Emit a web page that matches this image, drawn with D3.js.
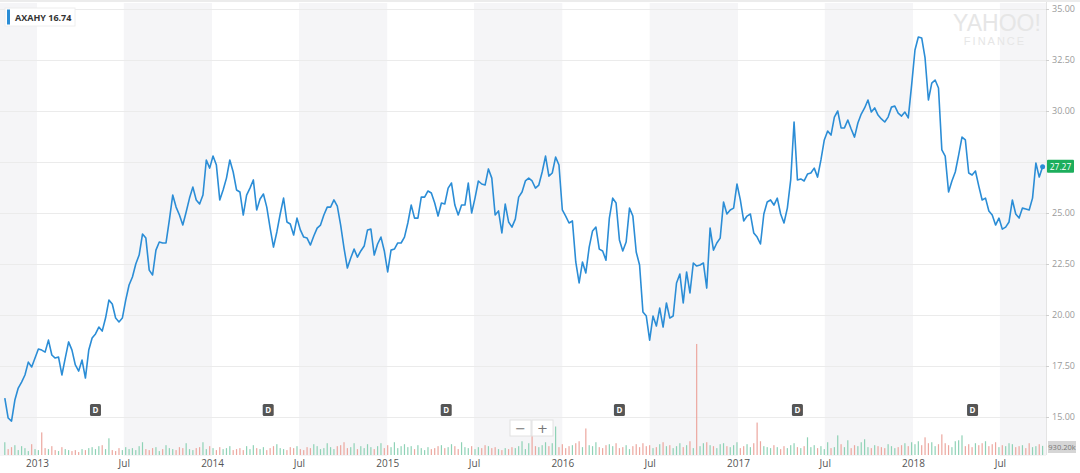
<!DOCTYPE html>
<html><head><meta charset="utf-8">
<script src="https://cdn.jsdelivr.net/npm/d3@7"></script>
<style>body{margin:0;background:#fff;overflow:hidden} svg{display:block}</style>
</head><body><svg id="c" width="1080" height="473"></svg>
<script>
const symbol = "AXAHY";
const legendValue = "16.74";
const firstWeek = "2012-10-26";
const closes = [
15.93,14.95,14.80,15.83,16.42,16.71,17.06,17.69,17.45,17.89,
18.33,18.28,18.18,18.77,18.04,17.89,17.94,17.06,17.89,18.68,
18.28,17.55,17.25,17.79,16.91,18.28,18.87,19.07,19.41,19.21,
19.85,20.73,20.54,19.85,19.66,19.85,20.73,21.47,21.86,22.50,
22.94,23.97,23.77,22.20,21.96,23.18,23.58,23.53,23.53,24.66,
25.88,25.29,24.90,24.41,25.05,25.73,26.27,25.64,25.44,25.88,
27.60,27.20,27.79,27.35,25.64,26.13,26.71,27.60,27.01,26.13,
26.03,24.90,25.88,26.22,26.62,25.15,25.69,25.93,25.29,24.26,
23.33,24.07,24.95,25.73,24.56,24.46,23.92,24.75,24.17,23.82,
23.77,23.43,23.87,24.26,24.41,24.90,25.29,25.29,25.64,25.34,
24.41,23.28,22.30,22.79,23.23,22.84,23.14,23.38,24.17,24.21,
22.94,23.48,23.82,23.14,22.11,23.18,23.23,23.53,23.53,23.82,
24.51,25.39,24.75,24.75,25.78,25.78,26.08,25.98,25.49,24.85,
25.49,25.44,26.22,26.47,25.39,24.90,25.39,25.39,26.47,25.00,
25.73,26.57,26.42,26.37,27.16,26.71,24.90,25.10,24.02,25.44,
24.56,24.31,24.70,25.78,26.03,26.57,26.71,26.57,26.22,26.37,
27.01,27.79,26.81,26.96,27.74,27.35,25.15,24.85,24.51,24.61,
22.60,21.57,22.60,22.06,23.33,24.12,24.31,23.23,23.14,22.69,
24.75,25.73,25.49,23.68,23.14,23.58,25.24,24.85,23.09,22.45,
20.15,19.95,18.77,19.95,19.46,20.34,19.41,20.59,19.85,19.95,
21.57,22.01,20.59,22.11,21.08,22.55,22.40,22.45,22.55,21.32,
24.26,23.18,23.53,23.77,25.54,24.95,25.15,25.24,26.42,25.64,
24.61,24.85,24.95,24.02,23.82,23.48,24.95,25.54,25.64,25.39,
25.73,24.95,24.51,25.24,26.62,29.46,26.62,26.67,26.57,26.91,
26.96,27.20,26.76,27.60,28.58,29.02,28.82,29.70,30.00,29.17,
29.17,29.56,29.12,28.72,29.41,29.85,30.15,30.54,29.95,30.15,
29.80,29.61,29.46,29.70,30.19,30.24,29.90,29.75,29.95,29.66,
31.27,32.99,33.63,33.58,32.60,30.54,31.37,31.52,31.13,28.09,
27.79,26.03,26.57,27.01,27.84,28.72,28.58,26.96,26.86,27.06,
26.32,25.64,25.73,25.10,24.90,24.41,24.75,24.21,24.31,24.56,
25.64,24.95,24.75,25.24,25.20,25.15,25.73,27.45,26.76,27.27
];
const volumes = [
1300,600,800,1000,500,900,700,400,1100,600,
500,2300,700,600,900,500,400,800,600,500,
400,500,300,600,500,700,800,600,900,1000,
600,1700,500,400,700,500,800,600,700,500,
900,1300,600,500,700,800,400,600,1000,700,
600,500,800,700,1200,600,500,700,800,1300,
600,900,700,500,800,600,700,900,500,600,
700,500,900,600,1000,700,600,800,500,700,
900,1100,700,600,500,800,700,900,600,500,
800,700,1100,900,600,700,1200,800,600,900,
1000,1300,700,800,1200,600,900,700,1100,800,
600,900,1200,700,1000,800,1300,700,900,1100,
800,900,600,1000,700,500,800,600,700,900,
1000,700,800,1100,900,600,1300,800,700,900,
600,800,700,1000,900,700,800,600,500,700,
600,800,700,900,1400,600,1200,2000,900,800,
1000,1300,900,1200,2900,800,1100,700,900,1000,
1200,1400,800,2700,1000,900,1300,800,700,1000,
1100,900,1200,700,800,1000,600,900,1100,800,
1200,900,1000,700,800,1100,1300,900,1000,700,
900,1200,800,1000,1400,700,11300,900,1200,1300,
1000,900,700,1100,1200,900,800,1000,1300,700,
900,1100,800,1200,3300,1400,900,800,700,1000,
800,600,900,700,1000,1200,800,700,900,1800,
800,1000,700,900,600,1300,700,800,2000,1100,
800,1500,700,1000,900,1300,1600,800,700,1000,
900,800,700,1100,900,700,800,1000,1200,900,
1300,1100,1400,1000,1800,1200,1300,900,1100,2100,
1200,1000,800,1400,1500,2000,900,1100,800,1200,
1000,1200,1400,900,1100,1300,800,1000,900,1200,
1100,800,900,1000,700,1200,800,900,1100,930
];
const dividendDates = ["2013-05-03","2014-04-28","2015-05-04","2016-04-29","2017-05-05","2018-05-05"];
const priceTicks = [15, 17.5, 20, 22.5, 25, 27.5, 30, 32.5, 35];
const timeTicks = ["2013-01-01","2013-07-01","2014-01-01","2014-07-01","2015-01-01","2015-07-01",
                   "2016-01-01","2016-07-01","2017-01-01","2017-07-01","2018-01-01","2018-07-01"];
const timeTickLabels = ["2013","Jul","2014","Jul","2015","Jul","2016","Jul","2017","Jul","2018","Jul"];
const shadedStarts = ["2012-07-01","2013-07-01","2014-07-01","2015-07-01","2016-07-01","2017-07-01","2018-07-01"];
const lastPrice = 27.27;
const lastVolumeLabel = "930.20k";

const parse = d3.timeParse("%Y-%m-%d");
const start = parse(firstWeek);
const data = closes.map((c, i) => ({
  date: d3.timeWeek.offset(start, i),
  close: c,
  volume: volumes[i],
  up: i === 0 ? true : c >= closes[i - 1]
}));

const W = 1080, H = 473, plotR = 1046, volBase = 455;
const x = d3.scaleTime().domain([parse("2012-10-16"), parse("2018-10-03")]).range([0, 1045]);
const y = d3.scaleLinear().domain([15, 35]).range([417, 9]);
const vy = d3.scaleLinear().domain([0, 11500]).range([volBase, 342]);

const svg = d3.select("#c");
svg.append("rect").attr("width", W).attr("height", H).attr("fill", "#fff");

// shaded half-year bands
svg.append("g").selectAll("rect").data(shadedStarts).join("rect")
  .attr("x", d => Math.max(0, x(parse(d))))
  .attr("width", d => {
    const s = parse(d), e = d3.timeYear.offset(d3.timeYear.floor(s), 1);
    return Math.min(plotR, x(e)) - Math.max(0, x(s));
  })
  .attr("y", 3).attr("height", volBase - 3 + 1)
  .attr("fill", "#f5f5f7");

// top border
svg.append("rect").attr("x", 0).attr("y", 0).attr("width", W).attr("height", 2).attr("fill", "#ececec");

// grid lines
svg.append("g").selectAll("line").data(priceTicks).join("line")
  .attr("x1", 0).attr("x2", plotR)
  .attr("y1", d => Math.round(y(d)) + 0.5).attr("y2", d => Math.round(y(d)) + 0.5)
  .attr("stroke", "#ebebeb").attr("stroke-width", 1);

// right axis (the tick label hidden under the last-price tag is not drawn, as in the reference)
svg.append("line").attr("x1", plotR + 0.5).attr("x2", plotR + 0.5).attr("y1", 2).attr("y2", volBase)
  .attr("stroke", "#e4e4e4");
const visibleTicks = priceTicks.filter(t => Math.abs(y(t) - y(lastPrice)) > 11);
const yAxis = d3.axisRight(y).tickValues(visibleTicks).tickFormat(d3.format(".2f")).tickSize(3).tickPadding(3);
const ya = svg.append("g").attr("transform", `translate(${plotR},0)`).call(yAxis);
ya.select(".domain").remove();
ya.selectAll("line").attr("stroke", "#cfcfcf");
ya.selectAll("text").attr("fill", "#9a9a9a").attr("font-size", 9)
  .attr("font-family", "'Open Sans', 'Liberation Sans', sans-serif");

// Yahoo Finance watermark
svg.append("text").attr("x", 997).attr("y", 31).attr("text-anchor", "middle")
  .attr("font-family", "'Liberation Sans', Arial, sans-serif").attr("font-size", 23)
  .attr("fill", "#e6e6e6").text("YAHOO!");
svg.append("text").attr("x", 995).attr("y", 45).attr("text-anchor", "middle")
  .attr("font-family", "'Liberation Sans', Arial, sans-serif").attr("font-size", 11)
  .attr("letter-spacing", 2).attr("fill", "#e6e6e6").text("FINANCE");

// volume bars
svg.append("g").selectAll("rect").data(data).join("rect")
  .attr("x", d => x(d.date) - 0.6).attr("width", 1.2)
  .attr("y", d => vy(d.volume)).attr("height", d => volBase - vy(d.volume))
  .attr("fill", d => d.up ? "#8fd2b6" : "#eca79f");

// price line
svg.append("path").datum(data)
  .attr("fill", "none").attr("stroke", "#2b8dd6").attr("stroke-width", 1.6)
  .attr("stroke-linejoin", "round")
  .attr("d", d3.line().x(d => x(d.date)).y(d => y(d.close)));
const last = data[data.length - 1];
svg.append("circle").attr("cx", x(last.date)).attr("cy", y(last.close)).attr("r", 2.5).attr("fill", "#2b8dd6");

// last price tag
svg.append("rect").attr("x", plotR + 1).attr("y", y(lastPrice) - 7).attr("width", 27).attr("height", 13)
  .attr("fill", "#1cae5c").attr("rx", 1);
svg.append("text").attr("x", plotR + 14.5).attr("y", y(lastPrice) + 3).attr("text-anchor", "middle")
  .attr("font-size", 8.5).attr("fill", "#fff").attr("font-family", "'Open Sans', sans-serif").text(d3.format(".2f")(lastPrice));

// volume label tag
svg.append("rect").attr("x", plotR + 2).attr("y", 441).attr("width", 28).attr("height", 12).attr("fill", "#d6d6d6");
svg.append("text").attr("x", plotR + 16).attr("y", 450).attr("text-anchor", "middle")
  .attr("font-size", 7.5).attr("fill", "#777").attr("font-family", "'Open Sans', sans-serif").text(lastVolumeLabel);

// dividend markers
const dg = svg.append("g").selectAll("g").data(dividendDates).join("g")
  .attr("transform", d => `translate(${x(parse(d))},410)`);
dg.append("rect").attr("x", -5.5).attr("y", -6).attr("width", 11).attr("height", 12).attr("rx", 1.5).attr("fill", "#555");
dg.append("text").attr("y", 3).attr("text-anchor", "middle").attr("font-size", 8).attr("font-weight", "bold")
  .attr("fill", "#fff").attr("font-family", "'Open Sans', sans-serif").text("D");

// zoom buttons
const zb = svg.append("g").attr("transform", "translate(510,420)");
zb.append("rect").attr("x", 0).attr("y", 0).attr("width", 21).attr("height", 16).attr("fill", "#fff").attr("stroke", "#e2e2e2");
zb.append("rect").attr("x", 22).attr("y", 0).attr("width", 21).attr("height", 16).attr("fill", "#fff").attr("stroke", "#e2e2e2");
zb.append("text").attr("x", 10.5).attr("y", 12.5).attr("text-anchor", "middle").attr("font-size", 13).attr("fill", "#777")
  .attr("font-family", "'DejaVu Sans', sans-serif").text("−");
zb.append("text").attr("x", 32.5).attr("y", 12.5).attr("text-anchor", "middle").attr("font-size", 13).attr("fill", "#777")
  .attr("font-family", "'DejaVu Sans', sans-serif").text("+");

// bottom axis
const xAxis = d3.axisBottom(x).tickValues(timeTicks.map(parse))
  .tickFormat((d, i) => timeTickLabels[i]).tickSize(0).tickPadding(5);
const xa = svg.append("g").attr("transform", `translate(0,${volBase})`).call(xAxis);
xa.select(".domain").remove();
xa.selectAll("text").attr("fill", "#555").attr("font-size", 10)
  .attr("font-family", "'Open Sans', 'Liberation Sans', sans-serif");

// legend
svg.append("rect").attr("x", 5).attr("y", 8).attr("width", 70).attr("height", 18).attr("fill", "#fff")
  .attr("stroke", "#eeeeee");
svg.append("rect").attr("x", 7).attr("y", 9.5).attr("width", 3).attr("height", 15).attr("fill", "#2b8dd6");
svg.append("text").attr("x", 15).attr("y", 20.5).attr("font-size", 9).attr("font-weight", "bold")
  .attr("fill", "#333").attr("font-family", "'Open Sans', 'Liberation Sans', sans-serif")
  .text(`${symbol} ${legendValue}`);
</script></body></html>
